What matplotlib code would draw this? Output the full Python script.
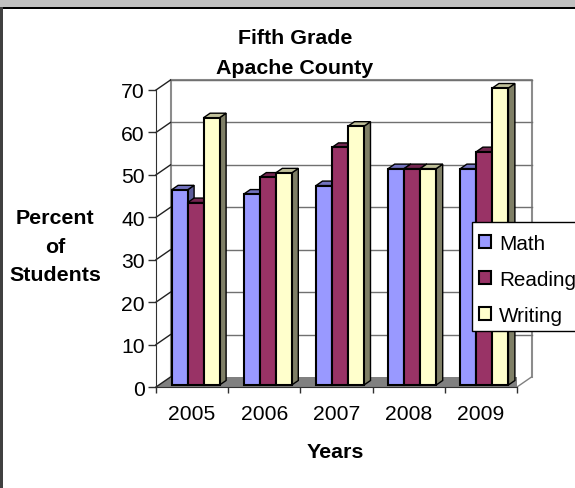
import matplotlib
matplotlib.use("Agg")
import matplotlib.pyplot as plt
from matplotlib.patches import Rectangle

plt.rcParams["font.family"] = ["Liberation Sans", "DejaVu Sans"]

# data
years = ["2005", "2006", "2007", "2008", "2009"]
math_vals = [46, 45, 47, 51, 51]
reading_vals = [43, 49, 56, 51, 55]
writing_vals = [63, 50, 61, 51, 70]
series_names = ["Math", "Reading", "Writing"]
y_ticks = [0, 10, 20, 30, 40, 50, 60, 70]

front_cols = ["#9999FF", "#993366", "#FFFFCC"]
top_cols = ["#7373BF", "#732650", "#BFBF99"]
side_cols = ["#5C5C99", "#5C1F3D", "#7F7F66"]

W, H = 575, 489
fig = plt.figure(figsize=(W / 100, H / 100), dpi=100, facecolor="white")

# window frame
fig.add_artist(Rectangle((0, 1 - 8 / H), 1, 8 / H, transform=fig.transFigure, fc="#C0C0C0", ec="none"))
fig.add_artist(Rectangle((0, 1 - 10 / H), 1, 2 / H, transform=fig.transFigure, fc="black", ec="none"))
fig.add_artist(Rectangle((0, 0), 3 / W, 1 - 8 / H, transform=fig.transFigure, fc="#404040", ec="none"))

# front plane of the chart, pixel box
left, right, top, bottom = 156, 517, 91, 388
ax = fig.add_axes([left / W, 1 - bottom / H, (right - left) / W, (bottom - top) / H])
ax.set_xlim(0, len(years))
ax.set_ylim(0, 70)
ax.patch.set_visible(False)
for s in ax.spines.values():
    s.set_visible(False)

px_x = len(years) / (right - left)
px_y = 70 / (bottom - top)

# depth of the box and of the bars
depth_x, depth_y = 14.5 * px_x, 10 * px_y
bar_dx, bar_dy = 6.5 * px_x, 4.5 * px_y
off_x, off_y = 3.5 * px_x, 2 * px_y
bar_w = 16 * px_x

# walls and floor
ax.fill([0, 5, 5 + depth_x, depth_x], [0, 0, depth_y, depth_y], fc="#808080", ec="none", zorder=1)
ax.plot([depth_x, 5 + depth_x, 5 + depth_x], [70 + depth_y, 70 + depth_y, depth_y], color="#8C8C8C", lw=1.5, zorder=1, clip_on=False)
ax.plot([depth_x, depth_x], [depth_y, 70 + depth_y], color="#8C8C8C", lw=1.5, zorder=1, clip_on=False)
ax.plot([5, 5 + depth_x], [0, depth_y], color="#808080", lw=1, zorder=1, clip_on=False)
for t in y_ticks:
    if t > 0:
        ax.plot([depth_x, 5 + depth_x], [t + depth_y, t + depth_y], color="#707070", lw=1, zorder=1, clip_on=False)
    ax.plot([0, depth_x], [t, t + depth_y], color="#202020", lw=1, zorder=2, clip_on=False)

# bars
series = [math_vals, reading_vals, writing_vals]
handles = []
for i in range(len(years)):
    x0 = i + 0.5 - 1.5 * bar_w + off_x
    for j, vals in enumerate(series):
        v = vals[i]
        x = x0 + j * bar_w
        base = off_y
        ax.fill([x + bar_w, x + bar_w + bar_dx, x + bar_w + bar_dx, x + bar_w],
                [base, base + bar_dy, base + v + bar_dy, base + v],
                fc=side_cols[j], ec="black", lw=1, zorder=3 + j, clip_on=False)
        ax.fill([x, x + bar_dx, x + bar_w + bar_dx, x + bar_w],
                [base + v, base + v + bar_dy, base + v + bar_dy, base + v],
                fc=top_cols[j], ec="black", lw=1, zorder=3 + j, clip_on=False)
        r = ax.bar(x, v, width=bar_w, bottom=base, align="edge", color=front_cols[j],
                   edgecolor="black", lw=1.5, zorder=3 + j, clip_on=False)
        if i == 0:
            handles.append(r)

# axes lines and ticks
ax.spines["left"].set_visible(True)
ax.spines["bottom"].set_visible(True)
ax.spines["left"].set_color("#303030")
ax.spines["bottom"].set_color("#303030")
ax.spines["left"].set_zorder(9)
ax.spines["bottom"].set_zorder(9)
ax.set_yticks(y_ticks)
ax.set_xticks(range(len(years) + 1))
ax.set_xticklabels([""] * (len(years) + 1))
ax.tick_params(axis="y", length=6, width=1, color="#303030", labelsize=15.2, pad=2)
ax.tick_params(axis="x", length=4.5, width=1, color="#303030")
for i, y in enumerate(years):
    ax.annotate(y, (i + 0.5, 0), xytext=(0, -27), textcoords="offset pixels", ha="center", va="center", fontsize=15.2)

# text
fig.text(295 / W, 1 - 39 / H, "Fifth Grade", ha="center", va="center", fontsize=15.4, fontweight="bold")
fig.text(295 / W, 1 - 68 / H, "Apache County", ha="center", va="center", fontsize=15.4, fontweight="bold")
fig.text(55 / W, 1 - 219 / H, "Percent", ha="center", va="center", fontsize=15.4, fontweight="bold")
fig.text(55 / W, 1 - 248 / H, "of", ha="center", va="center", fontsize=15.4, fontweight="bold")
fig.text(55 / W, 1 - 276 / H, "Students", ha="center", va="center", fontsize=15.4, fontweight="bold")
fig.text(335 / W, 1 - 453 / H, "Years", ha="center", va="center", fontsize=15.4, fontweight="bold")

# legend box is drawn on its own so the padding can differ per side
ax.add_patch(Rectangle((472 / W, 1 - 332 / H), 110 / W, 109 / H, transform=fig.transFigure,
                       fc="white", ec="black", lw=1, zorder=19, clip_on=False))
leg = ax.legend(handles, series_names, loc="upper left", bbox_to_anchor=(479 / W, 1 - 235 / H),
                bbox_transform=fig.transFigure, fontsize=14.9, frameon=False,
                handlelength=0.6, handleheight=0.6, handletextpad=0.38, labelspacing=0.82,
                borderpad=0, borderaxespad=0)
leg.set_zorder(20)

fig.savefig("out.png", dpi=100)
